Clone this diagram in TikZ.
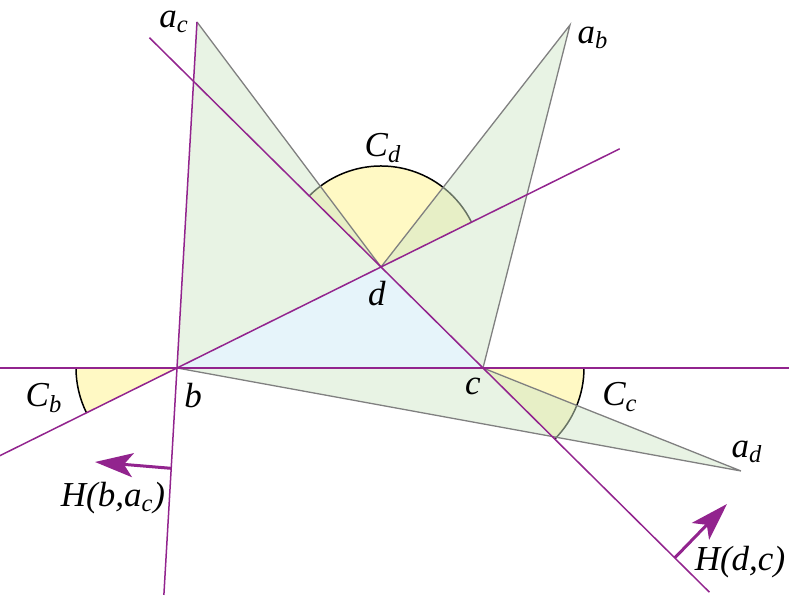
\documentclass[tikz,border=0pt]{standalone}
\usepackage{amsmath}
\usepackage{fontspec}
\setmainfont{Liberation Serif}
\usepackage{tikz}
\usetikzlibrary{arrows.meta,calc}
\definecolor{hpurple}{RGB}{146,36,142}
\definecolor{facegreen}{RGB}{209,231,201}
\definecolor{faceblue}{RGB}{230,244,250}
\definecolor{sectoryellow}{RGB}{255,249,196}
\definecolor{edgegray}{RGB}{128,128,128}
\newcommand{\vsub}[1]{\textsubscript{\itshape #1}}

\begin{document}
\begin{tikzpicture}[x=0.5pt,y=0.5pt,yscale=-1,xscale=1,
  purpleline/.style={draw=hpurple,line width=0.75pt},
  grayedge/.style={draw=edgegray,line width=0.65pt},
  greenface/.style={fill=facegreen,fill opacity=0.5},
  sectorfill/.style={fill=sectoryellow},
  sectorarc/.style={draw=black,line width=0.75pt},
  hlabel/.style={inner sep=0.75pt,font=\fontsize{17.5}{20}\selectfont\itshape},
  hvec/.style={draw=hpurple,line width=1.5pt,-{Stealth[length=19pt,width=12pt,inset=4.5pt]}}]
\useasboundingbox (0,0) rectangle (800,597);

\coordinate (b) at (177,368);
\coordinate (c) at (483,368);
\coordinate (d) at (381,267);
\coordinate (ac) at (197,22);
\coordinate (ab) at (570,25);
\coordinate (ad) at (741,471);

% angle sectors C_d, C_b, C_c
\fill[sectorfill] (d) -- ++(-135:101) arc[start angle=-135,end angle=-26.5,radius=101] -- cycle;
\fill[sectorfill] (b) -- ++(153.7:101) arc[start angle=153.7,end angle=180,radius=101] -- cycle;
\fill[sectorfill] (c) -- ++(0:101) arc[start angle=0,end angle=44.7,radius=101] -- cycle;
\draw[sectorarc] (d) ++(-135:101) arc[start angle=-135,end angle=-26.5,radius=101];
\draw[sectorarc] (b) ++(153.7:101) arc[start angle=153.7,end angle=180,radius=101];
\draw[sectorarc] (c) ++(0:101) arc[start angle=0,end angle=44.7,radius=101];

% triangles
\fill[greenface] (b) -- (ac) -- (d) -- cycle;
\fill[greenface] (d) -- (ab) -- (c) -- cycle;
\fill[greenface] (b) -- (c) -- (ad) -- cycle;
\fill[faceblue] (b) -- (c) -- (d) -- cycle;

\draw[grayedge] (ac) -- (d) (d) -- (ab) -- (c) (b) -- (ad) -- (c);

% lines
\draw[purpleline] ($(b)!-0.578!(c)$) -- ($(b)!2.0!(c)$);
\draw[purpleline] ($(b)!-0.868!(d)$) -- ($(b)!2.17!(d)$);
\draw[purpleline] ($(c)!3.27!(d)$) -- ($(d)!3.22!(c)$);
\draw[purpleline] (ac) -- ($(ac)!1.656!(b)$);

% half planes
\coordinate (hb) at ($(ac)!1.29!(b)$);
\coordinate (hbtip) at (95,462);
\coordinate (hd) at ($(d)!2.88!(c)$);
\coordinate (hdtip) at (727,504);
\draw[hvec] (hb) -- (hbtip);
\draw[hvec] (hd) -- (hdtip);

\draw (174,22) node (lac) [hlabel] {a\vsub{c}};
\draw (593,38) node (lab) [hlabel] {a\vsub{b}};
\draw (747,452) node (lad) [hlabel] {a\vsub{d}};
\draw (383,148) node (lcd) [hlabel] {C\vsub{d}};
\draw (44,398) node (lcb) [hlabel] {C\vsub{b}};
\draw (620,397) node (lcc) [hlabel] {C\vsub{c}};
\draw (377,294) node (ld) [hlabel] {d};
\draw (193,396) node (lb) [hlabel] {b};
\draw (473,386) node (lc) [hlabel] {c};
\draw (113,498) node (lhb) [hlabel] {H(b,a\vsub{c})};
\draw (740,562) node (lhd) [hlabel] {H(d,c)};
\end{tikzpicture}
\end{document}
